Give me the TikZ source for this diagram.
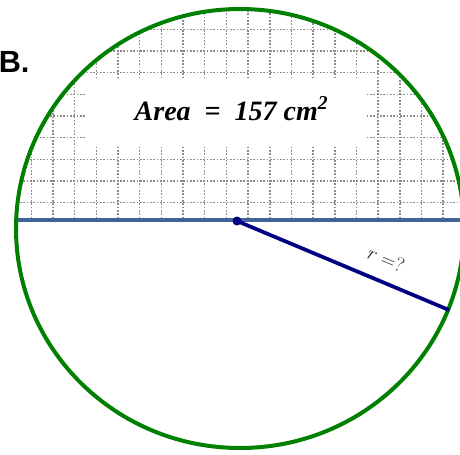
\documentclass[tikz,border=0pt]{standalone}
\usepackage{fontspec}
\usepackage{xcolor}
\usetikzlibrary{positioning}
\newfontfamily\labelfont{Liberation Sans}
\newfontfamily\areafont{Liberation Serif}
\definecolor{rimgreen}{HTML}{008000}
\definecolor{steelline}{HTML}{41659A}
\definecolor{navyline}{HTML}{000080}

\begin{document}
\begin{tikzpicture}[
    x=0.75pt, y=-0.75pt,
    rim/.style={draw=rimgreen, line width=3pt},
    gridline/.style={draw=gray!90, line width=1.15pt, dash pattern=on 1.15pt off 1.35pt},
    dot/.style={circle, fill=navyline, inner sep=0pt, minimum size=6.5pt}
]
    \useasboundingbox (0,0) rectangle (460,454);

    % Grid in the upper half
    \begin{scope}
        \clip (240,228.5) ellipse [x radius=224, y radius=219.5];
        \clip (0,0) rectangle (460,218);
        \foreach \k in {0,...,21}
            \draw[gridline] (9.7+21.67*\k,0) -- (9.7+21.67*\k,220);
        \foreach \k in {0,...,8}
            \draw[gridline] (0,29.3+21.67*\k) -- (460,29.3+21.67*\k);
    \end{scope}
    \fill[white] (87,78) rectangle (366,146);

    % Circle and diameter
    \coordinate (west) at (15,220);
    \coordinate (east) at (460,220);
    \draw[steelline, line width=2.6pt] (west) -- (east);
    \draw[rim] (240,228.5) ellipse [x radius=224, y radius=219.5];

    % Radius
    \node[dot] (O) at (237,221) {};
    \coordinate (P) at (449,310);
    \draw[navyline, line width=2.8pt] (O.center) -- (P)
        node[pos=0.66, sloped, above=7pt, text=black!85, font=\fontsize{15}{17}\selectfont] (rlabel) {\textit{r} =?};
    \node[dot] at (O) {};

    % Labels
    \node[anchor=base west, inner sep=0pt, font=\labelfont\bfseries\fontsize{23}{26}\selectfont] (part) at (-1.5,72) {B.};
    \node[anchor=base, inner sep=0pt, font=\areafont\bfseries\itshape\fontsize{21}{25}\selectfont] (area) at (231.5,120)
        {Area\ \ =\ \ 157 cm\textsuperscript{2}};
\end{tikzpicture}
\end{document}
